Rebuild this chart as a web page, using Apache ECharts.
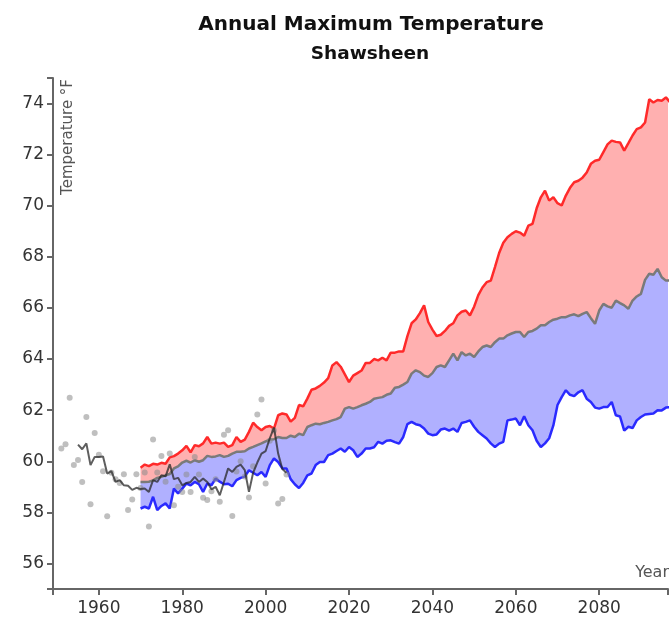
<!DOCTYPE html>
<html><head><meta charset="utf-8">
<script src="https://cdn.jsdelivr.net/npm/echarts@6/dist/echarts.min.js"></script>
<style>html,body{margin:0;padding:0;background:#fff}#c{width:669px;height:621px}</style>
</head><body><div id="c"></div>
<script>
// Observed annual values (gray dots)
const obsYears = [1951,1952,1953,1954,1955,1956,1957,1958,1959,1960,1961,1962,1963,1964,1965,1966,1967,1968,1969,1970,
  1971,1972,1973,1974,1975,1976,1977,1978,1979,1980,1981,1982,1983,1984,1985,1986,1987,1988,1989,1990,
  1991,1992,1993,1994,1995,1996,1997,1998,1999,2000,2001,2002,2003,2004,2005];
const obsValues = [60.50,60.67,62.49,59.85,60.05,59.19,61.73,58.32,61.11,60.25,59.61,57.85,59.55,59.30,59.15,59.49,58.09,58.50,59.49,58.95,
  59.56,57.45,60.85,59.56,60.21,59.20,60.30,58.28,59.00,58.80,59.48,58.80,60.17,59.48,58.57,58.48,58.83,59.30,58.41,61.04,
  61.21,57.86,59.60,60.00,59.40,58.58,59.80,61.83,62.42,59.13,60.80,61.20,58.35,58.52,59.48];

// Observed running mean (dark line)
const meanYears = [1955,1956,1957,1958,1959,1960,1961,1962,1963,1964,1965,1966,1967,1968,1969,1970,1971,1972,1973,1974,
  1975,1976,1977,1978,1979,1980,1981,1982,1983,1984,1985,1986,1987,1988,1989,1990,1991,1992,1993,1994,
  1995,1996,1997,1998,1999,2000,2001,2002,2003,2004,2005];
const meanValues = [60.65,60.47,60.70,59.85,60.17,60.17,60.19,59.52,59.61,59.19,59.26,59.06,59.04,58.88,58.96,58.91,58.93,58.80,59.26,59.19,
  59.45,59.41,59.88,59.30,59.35,59.06,59.15,59.19,59.39,59.19,59.32,59.19,58.90,59.00,58.67,59.19,59.72,59.58,59.78,59.87,
  59.65,58.80,59.55,59.95,60.30,60.40,60.90,61.32,60.30,59.70,59.55];

// Modelled range
const modelYears = [1970,1971,1972,1973,1974,1975,1976,1977,1978,1979,1980,1981,1982,1983,1984,1985,1986,1987,1988,1989,
  1990,1991,1992,1993,1994,1995,1996,1997,1998,1999,2000,2001,2002,2003,2004,2005,2006,2007,2008,2009,
  2010,2011,2012,2013,2014,2015,2016,2017,2018,2019,2020,2021,2022,2023,2024,2025,2026,2027,2028,2029,
  2030,2031,2032,2033,2034,2035,2036,2037,2038,2039,2040,2041,2042,2043,2044,2045,2046,2047,2048,2049,
  2050,2051,2052,2053,2054,2055,2056,2057,2058,2059,2060,2061,2062,2063,2064,2065,2066,2067,2068,2069,
  2070,2071,2072,2073,2074,2075,2076,2077,2078,2079,2080,2081,2082,2083,2084,2085,2086,2087,2088,2089,
  2090,2091,2092,2093,2094,2095,2096,2097];
const highValues = [59.75,59.87,59.81,59.90,59.87,59.94,59.90,60.15,60.20,60.30,60.43,60.60,60.35,60.63,60.59,60.70,60.95,60.69,60.73,60.69,
  60.73,60.56,60.63,60.95,60.76,60.85,61.15,61.51,61.34,61.21,61.34,61.38,61.28,61.80,61.87,61.83,61.55,61.70,62.20,62.15,
  62.45,62.80,62.85,62.95,63.08,63.25,63.75,63.88,63.70,63.40,63.10,63.35,63.45,63.55,63.85,63.85,64.00,63.95,64.05,63.95,
  64.25,64.25,64.30,64.30,64.90,65.40,65.55,65.80,66.10,65.45,65.15,64.90,64.95,65.10,65.30,65.40,65.71,65.85,65.90,65.71,
  66.05,66.50,66.80,67.01,67.07,67.60,68.15,68.55,68.77,68.90,69.00,68.95,68.83,69.22,69.29,69.90,70.33,70.59,70.20,70.33,
  70.10,70.01,70.40,70.70,70.92,70.98,71.10,71.30,71.64,71.76,71.80,72.10,72.40,72.55,72.50,72.48,72.16,72.45,72.75,73.00,
  73.07,73.26,74.17,74.04,74.14,74.11,74.24,74.05];
const medianValues = [59.19,59.19,59.20,59.25,59.35,59.39,59.45,59.50,59.72,59.80,59.95,60.02,59.95,60.04,59.98,60.04,60.21,60.17,60.19,60.24,
  60.17,60.21,60.30,60.37,60.37,60.39,60.50,60.56,60.63,60.70,60.78,60.85,60.86,60.95,60.91,60.91,61.00,60.95,61.08,61.02,
  61.34,61.41,61.47,61.45,61.50,61.54,61.60,61.65,61.73,62.06,62.12,62.06,62.12,62.19,62.25,62.32,62.45,62.48,62.51,62.60,
  62.65,62.88,62.91,63.00,63.10,63.43,63.56,63.49,63.35,63.30,63.45,63.69,63.75,63.69,63.95,64.21,63.95,64.27,64.14,64.21,
  64.08,64.30,64.47,64.53,64.47,64.66,64.80,64.80,64.93,65.00,65.06,65.06,64.86,65.06,65.10,65.19,65.32,65.32,65.45,65.54,
  65.58,65.64,65.64,65.71,65.75,65.68,65.77,65.84,65.60,65.38,65.90,66.16,66.06,66.01,66.29,66.19,66.10,65.97,66.29,66.45,
  66.55,67.10,67.34,67.30,67.53,67.20,67.07,67.07];
const lowValues = [58.15,58.22,58.15,58.61,58.09,58.25,58.35,58.15,58.93,58.74,58.93,59.13,59.06,59.19,59.10,58.80,59.13,59.06,59.32,59.20,
  59.10,59.12,59.02,59.26,59.35,59.40,59.65,59.55,59.45,59.58,59.39,59.85,60.11,59.97,59.72,59.72,59.30,59.10,58.95,59.15,
  59.45,59.52,59.85,59.97,59.97,60.24,60.30,60.40,60.50,60.37,60.56,60.43,60.17,60.30,60.50,60.50,60.55,60.76,60.69,60.80,
  60.82,60.75,60.69,60.95,61.45,61.54,61.45,61.41,61.28,61.08,61.02,61.05,61.24,61.28,61.20,61.28,61.15,61.50,61.54,61.60,
  61.35,61.15,61.02,60.89,60.70,60.56,60.69,60.76,61.60,61.63,61.67,61.41,61.76,61.41,61.21,60.80,60.56,60.70,60.90,61.40,
  62.20,62.51,62.78,62.60,62.55,62.70,62.78,62.45,62.32,62.10,62.06,62.12,62.12,62.32,61.80,61.75,61.20,61.35,61.30,61.60,
  61.73,61.83,61.85,61.87,62.00,61.99,62.10,62.12];

const yTickLabels = [56,58,60,62,64,66,68,70,72,74];
const xTickLabels = [1960,1980,2000,2020,2040,2060,2080];

const zip = (xs, ys) => xs.map((x, i) => [x, ys[i]]);
// for the stacked fills the value goes first (dimension 0 is stacked), year second
const zipVY = (xs, ys) => xs.map((x, i) => [ys[i], x]);
const lowerBand = medianValues.map((v, i) => v - lowValues[i]);
const upperBand = highValues.map((v, i) => v - medianValues[i]);

const FONT = 'DejaVu Sans';
const axisColor = '#666';
const hidden = {opacity: 0, width: 0};
const bandEncode = {x: 1, y: 0};

const chart = echarts.init(document.getElementById('c'), null, {renderer: 'canvas'});
chart.setOption({
  animation: false,
  backgroundColor: '#fff',
  grid: {left: 53, right: 1, top: 78, bottom: 32},
  title: [
    {text: 'Annual Maximum Temperature', left: 366, top: 10, textAlign: 'center',
     textStyle: {fontFamily: FONT, fontWeight: 'bold', fontSize: 20, color: '#111'}},
    {text: 'Shawsheen', left: 365, top: 40, textAlign: 'center',
     textStyle: {fontFamily: FONT, fontWeight: 'bold', fontSize: 18.5, color: '#111'}}
  ],
  xAxis: {
    type: 'value', min: 1949, max: 2096.5, z: 10,
    splitLine: {show: false},
    axisLine: {show: true, onZero: false, lineStyle: {color: axisColor, width: 2}},
    axisTick: {show: true, length: 6, customValues: [1949].concat(xTickLabels, [2096.5]), lineStyle: {color: axisColor, width: 2}},
    axisLabel: {customValues: xTickLabels, formatter: v => String(v), fontFamily: FONT, fontSize: 17, color: '#333', margin: 11}
  },
  yAxis: {
    type: 'value', min: 55, max: 75, z: 10,
    splitLine: {show: false},
    axisLine: {show: true, lineStyle: {color: axisColor, width: 2}},
    axisTick: {show: true, length: 6, customValues: [55].concat(yTickLabels, [75]), lineStyle: {color: axisColor, width: 2}},
    axisLabel: {customValues: yTickLabels, formatter: v => String(v), fontFamily: FONT, fontSize: 17, color: '#333', margin: 9}
  },
  graphic: [
    {type: 'text', x: 68, y: 79, rotation: Math.PI / 2, z: 20,
     style: {text: 'Temperature °F', font: '15px "DejaVu Sans"', fill: '#555', align: 'right', verticalAlign: 'middle'}},
    {type: 'text', x: 669, y: 573, z: 20,
     style: {text: 'Year', font: '16px "DejaVu Sans"', fill: '#555', align: 'right', verticalAlign: 'middle'}}
  ],
  series: [
    // stacked fills
    {type: 'line', name: 'base', stack: 'band', data: zipVY(modelYears, lowValues), encode: bandEncode,
     symbol: 'none', z: 1, lineStyle: hidden, silent: true},
    {type: 'line', name: 'lowerBand', stack: 'band', data: zipVY(modelYears, lowerBand), encode: bandEncode,
     symbol: 'none', z: 1, lineStyle: hidden, areaStyle: {color: '#b0b0ff', opacity: 1}, silent: true},
    {type: 'line', name: 'upperBand', stack: 'band', data: zipVY(modelYears, upperBand), encode: bandEncode,
     symbol: 'none', z: 1, lineStyle: hidden, areaStyle: {color: '#ffb0b0', opacity: 1}, silent: true},
    // lines
    {type: 'line', name: 'high', data: zip(modelYears, highValues), symbol: 'none', z: 3,
     lineStyle: {color: '#ff2a2a', width: 2.5}},
    {type: 'line', name: 'median', data: zip(modelYears, medianValues), symbol: 'none', z: 3,
     lineStyle: {color: '#7a7a7a', width: 2.5}},
    {type: 'line', name: 'low', data: zip(modelYears, lowValues), symbol: 'none', z: 3,
     lineStyle: {color: '#2a2aff', width: 2.5}},
    {type: 'scatter', name: 'observed', data: zip(obsYears, obsValues), symbolSize: 6, z: 5,
     itemStyle: {color: 'rgba(140,140,140,0.7)'}},
    {type: 'line', name: 'observed mean', data: zip(meanYears, meanValues), symbol: 'none', z: 6,
     lineStyle: {color: 'rgba(40,40,40,0.75)', width: 2}}
  ]
});
</script>
</body></html>
